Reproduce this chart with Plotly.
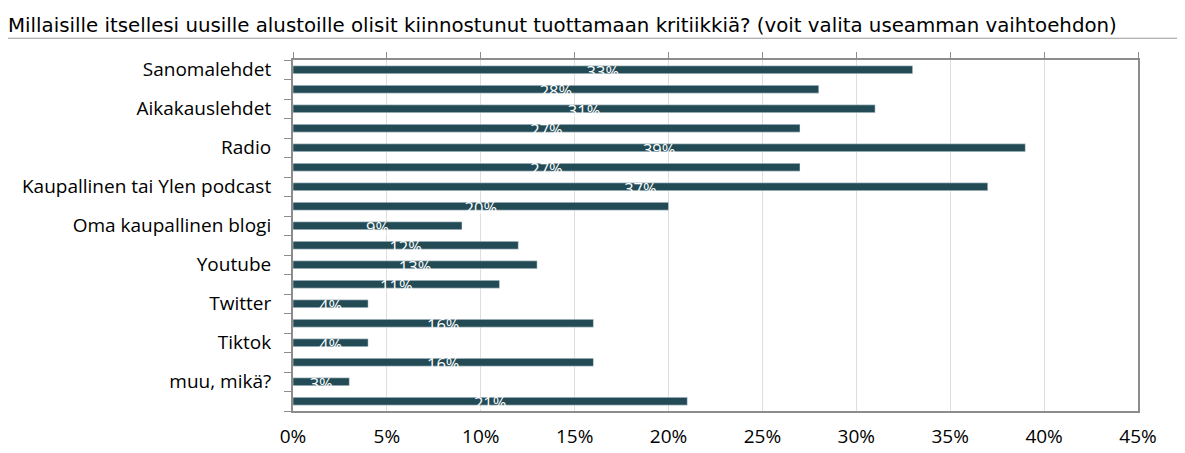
'''
    Horizontal bar chart: interest in producing criticism for new platforms.
'''
import plotly.graph_objects as go

TITLE = ('Millaisille itsellesi uusille alustoille olisit kiinnostunut '
         'tuottamaan kritiikkiä? (voit valita useamman vaihtoehdon)')

# every other bar carries a category label, the ones between have none
labels = ['Sanomalehdet', '', 'Aikakauslehdet', '', 'Radio', '',
          'Kaupallinen tai Ylen podcast', '', 'Oma kaupallinen blogi', '',
          'Youtube', '', 'Twitter', '', 'Tiktok', '', 'muu, mikä?', '']
values = [0.33, 0.28, 0.31, 0.27, 0.39, 0.27, 0.37, 0.20, 0.09,
          0.12, 0.13, 0.11, 0.04, 0.16, 0.04, 0.16, 0.03, 0.21]
x_ticks = [0, 0.05, 0.10, 0.15, 0.20, 0.25, 0.30, 0.35, 0.40, 0.45]

BAR = '#234B56'
AXIS = '#8c8c8c'
FONT = 'Open Sans'

positions = list(range(len(values)))

fig = go.Figure()

fig.add_trace(go.Bar(
    x=values,
    y=positions,
    orientation='h',
    width=0.4,
    marker_color=BAR,
    hoverinfo='skip',
))

# white labels sit half below the bar, so only their top shows
fig.add_trace(go.Scatter(
    x=[v / 2 for v in values],
    y=[p + 0.2 for p in positions],
    xaxis='x2',
    mode='text',
    text=[f'{round(v * 100)}%' for v in values],
    textfont=dict(family=FONT, size=16.5, color='white'),
    hoverinfo='skip',
))

fig.update_layout(
    width=1185,
    height=453,
    margin=dict(l=285, r=55, t=52, b=35),
    paper_bgcolor='white',
    plot_bgcolor='white',
    showlegend=False,
    xaxis=dict(
        range=[0, 0.45],
        tickvals=x_ticks,
        tickformat='.0%',
        showgrid=True,
        gridcolor='#dedede',
        gridwidth=1,
        showline=True,
        linecolor=AXIS,
        linewidth=1.5,
        mirror=True,
        ticks='',
        ticklabelstandoff=7,
        tickfont=dict(family=FONT, size=19, color='black'),
        zeroline=False,
    ),
    xaxis2=dict(
        overlaying='x',
        side='top',
        range=[0, 0.45],
        tickvals=x_ticks,
        ticks='outside',
        ticklen=7,
        tickcolor=AXIS,
        tickwidth=1,
        showticklabels=False,
        showgrid=False,
        zeroline=False,
    ),
    yaxis=dict(
        range=[len(values) - 0.5, -0.5],
        tickvals=positions,
        ticktext=labels,
        ticks='',
        showgrid=False,
        showline=True,
        linecolor=AXIS,
        linewidth=2,
        mirror=True,
        zeroline=False,
        ticklabelstandoff=16,
        tickfont=dict(family=FONT, size=19, color='black'),
        minor=dict(
            tickvals=[p - 0.5 for p in positions] + [len(values) - 0.5],
            ticks='outside',
            ticklen=7,
            tickcolor=AXIS,
            tickwidth=1,
            showgrid=False,
        ),
    ),
    title=dict(
        text=TITLE,
        font=dict(family='DejaVu Sans', size=19.8, color='black'),
        x=0,
        xanchor='left',
        y=0.962,
        yanchor='middle',
    ),
    shapes=[dict(
        type='line', xref='paper', yref='paper',
        x0=-0.34, x1=1.07, y0=1.062, y1=1.062,
        line=dict(color='#9a9a9a', width=1),
    )],
)

fig.write_html('out.html')
